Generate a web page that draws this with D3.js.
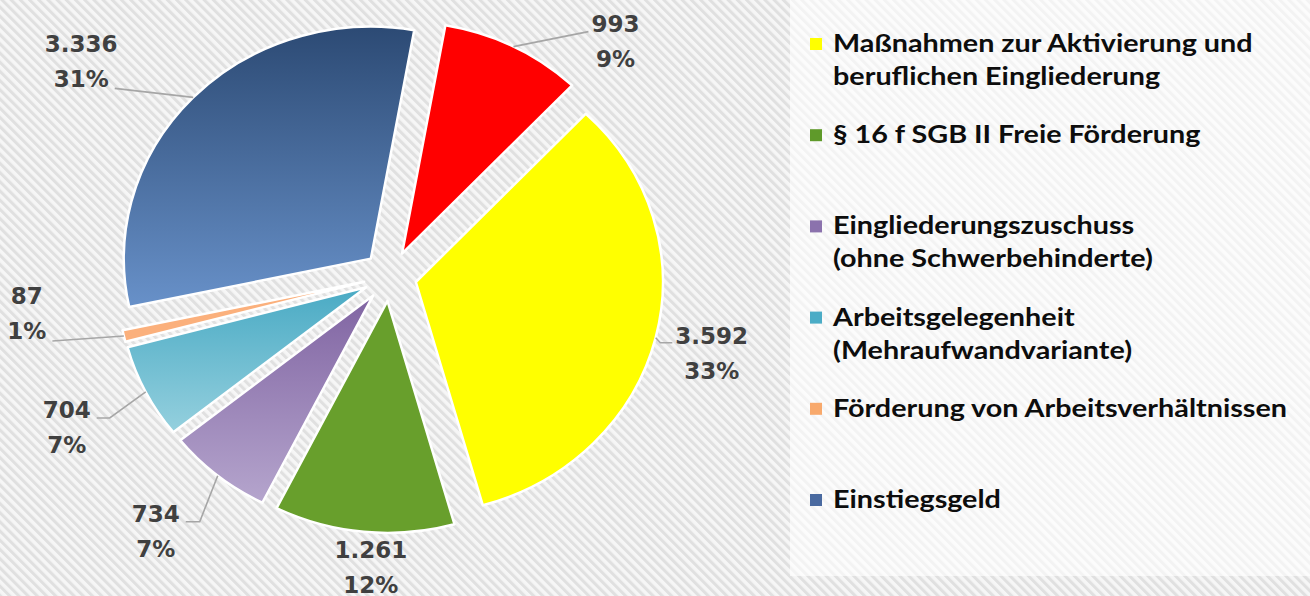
<!DOCTYPE html>
<html><head><meta charset="utf-8">
<script src="https://cdn.jsdelivr.net/npm/d3@7"></script>
<style>body{margin:0;background:#fff;} svg{display:block;}</style>
</head><body><svg id="c" width="1310" height="596"></svg>
<script>
// ---- data ----
const categories = ["Maßnahmen zur Aktivierung und beruflichen Eingliederung",
  "§ 16 f SGB II Freie Förderung",
  "Eingliederungszuschuss (ohne Schwerbehinderte)",
  "Arbeitsgelegenheit (Mehraufwandvariante)",
  "Förderung von Arbeitsverhältnissen",
  "Einstiegsgeld",
  "Sonstige"];
const values = [3592, 1261, 734, 704, 87, 3336, 993];
const percentLabels = ["33%", "12%", "7%", "7%", "1%", "31%", "9%"];
const legendLines = [
  ["Maßnahmen zur Aktivierung und", "beruflichen Eingliederung"],
  ["§ 16 f SGB II Freie Förderung"],
  ["Eingliederungszuschuss", "(ohne Schwerbehinderte)"],
  ["Arbeitsgelegenheit", "(Mehraufwandvariante)"],
  ["Förderung von Arbeitsverhältnissen"],
  ["Einstiegsgeld"]
];
const sliceColors = [["#ffff00","#ffff00"],["#689f2c","#689f2c"],["#8064a2","#b5a5cd"],["#49aac4","#95d0de"],["#fbb07c","#fbb07c"],["#2c4a74","#6891c9"],["#ff0000","#ff0000"]];
const legendColors = ["#ffff00","#5f9a2a","#8b72ad","#4bacc6","#f8a96c","#4a6aa0"];

// ---- layout (not data) ----
const W = 1310, H = 596;
const cx = 390, cy = 276, R = 232, sx = 1.065, explode = 25, startDeg = 43.5;
const labelDX = [56, 7, -62, -79, -97, -112, 102];
const labelDY = [6, 26, 46, 26, -32, -45, -15];
const leaderLine = [1, 0, 1, 1, 2, 2, 1];   // which text line the leader points to (0 = none)
const leaderDY = [-1, 0, 0, 0, 2, 1, 0];
const leaderElbow = [12, 0, 14, 13, 0, 0, 0];
const lineGap = 35;
const legendStretch = 1.15;

const fmt = d3.formatLocale({decimal: ",", thousands: ".", grouping: [3], currency: ["", "€"]}).format(",d");

const svg = d3.select("#c");
const defs = svg.append("defs");
const pat = defs.append("pattern").attr("id", "hatch").attr("patternUnits", "userSpaceOnUse")
  .attr("width", 6.5).attr("height", 6.5).attr("patternTransform", "rotate(-45)");
pat.append("rect").attr("width", 6.5).attr("height", 6.5).attr("fill", "#f6f6f6");
pat.append("rect").attr("width", 3).attr("height", 6.5).attr("fill", "#e0e0e0");
svg.append("rect").attr("width", W).attr("height", H).attr("fill", "url(#hatch)");
svg.append("rect").attr("x", 790).attr("y", 0).attr("width", W - 790).attr("height", 576)
  .attr("fill", "#ffffff").attr("opacity", 0.62);

sliceColors.forEach((c, i) => {
  const g = defs.append("linearGradient").attr("id", "g" + i).attr("x1", 0).attr("y1", 0).attr("x2", 0).attr("y2", 1);
  g.append("stop").attr("offset", "0%").attr("stop-color", c[0]);
  g.append("stop").attr("offset", "100%").attr("stop-color", c[1]);
});

const a0 = startDeg * Math.PI / 180;
const pie = d3.pie().sort(null).value(d => d).startAngle(a0).endAngle(a0 + 2 * Math.PI);
const arcs = pie(values);
const arc = d3.arc().innerRadius(0).outerRadius(R);

const gp = svg.append("g").attr("transform", `translate(${cx},${cy})`);
arcs.forEach((d, i) => {
  const mid = (d.startAngle + d.endAngle) / 2;
  d.ox = explode * sx * Math.sin(mid);
  d.oy = -explode * Math.cos(mid);
  d.px = cx + d.ox + R * sx * Math.sin(mid);
  d.py = cy + d.oy - R * Math.cos(mid);
  gp.append("path").attr("d", arc(d))
    .attr("transform", `translate(${d.ox},${d.oy}) scale(${sx},1)`)
    .attr("fill", `url(#g${i})`)
    .attr("stroke", "#ffffff").attr("stroke-width", 2.5)
    .attr("vector-effect", "non-scaling-stroke")
    .attr("stroke-linejoin", "round");
});

// data labels
const gl = svg.append("g");
arcs.forEach((d, i) => {
  const lx = d.px + labelDX[i], ly = d.py + labelDY[i];
  const t = gl.append("g");
  const lines = [fmt(values[i]), percentLabels[i]];
  const texts = lines.map((s, k) => t.append("text").attr("x", lx).attr("y", ly + k * lineGap)
    .attr("text-anchor", "middle").attr("font-family", "DejaVu Sans").attr("font-weight", "bold")
    .attr("font-size", 23).attr("fill", "#404040").text(s));
  if (leaderLine[i]) {
    const k = leaderLine[i] - 1;
    const bb = texts[k].node().getBBox();
    const left = lx < d.px;
    const ex = left ? bb.x + bb.width + 6 : bb.x - 3;
    const ey = ly + k * lineGap + leaderDY[i];
    const pts = [[d.px, d.py]];
    if (leaderElbow[i]) pts.push([ex + (left ? leaderElbow[i] : -leaderElbow[i]), ey]);
    pts.push([ex, ey]);
    gl.insert("path", ":first-child").attr("d", d3.line()(pts)).attr("fill", "none")
      .attr("stroke", "#a6a6a6").attr("stroke-width", 1.6);
  }
});

// legend
const ly = d3.scalePoint().domain(d3.range(legendLines.length)).range([52, 508]);
const gLeg = svg.append("g");
legendLines.forEach((lines, i) => {
  const y = ly(i);
  gLeg.append("rect").attr("x", 810).attr("y", y - 14).attr("width", 12).attr("height", 12).attr("fill", legendColors[i]);
  lines.forEach((s, k) => {
    gLeg.append("text").attr("x", 0).attr("y", 0)
      .attr("transform", `translate(833,${y + k * 33}) scale(${legendStretch},1)`)
      .attr("font-family", "Lato").attr("font-weight", "bold").attr("font-size", 25)
      .attr("fill", "#0d0d0d").text(s);
  });
});
</script></body></html>
